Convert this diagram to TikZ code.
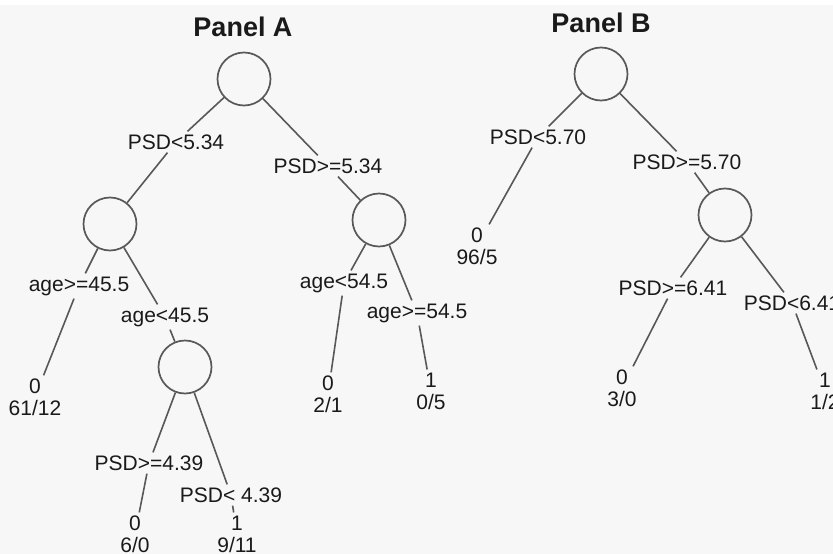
\documentclass[tikz,border=0pt]{standalone}
\usepackage{fontspec}
\setmainfont{Liberation Sans}
\definecolor{bg}{HTML}{F7F7F7}
\definecolor{linegray}{HTML}{585858}
\definecolor{txt}{HTML}{1A1A1A}
\begin{document}
\begin{tikzpicture}[x=1pt,y=-1pt,
  split/.style={circle,draw=linegray,line width=1.7pt,minimum size=53pt,inner sep=0pt},
  cond/.style={font=\fontsize{21}{22}\selectfont,text=txt,inner sep=3pt},
  leaf/.style={font=\fontsize{21}{22}\selectfont,text=txt,align=center,inner sep=3pt},
  ttl/.style={font=\fontsize{27}{30}\selectfont\bfseries,text=txt},
  edge/.style={draw=linegray,line width=1.6pt}]
\useasboundingbox (0,0) rectangle (833,554);
\clip (0,0) rectangle (833,554);
\fill[bg] (0,0) rectangle (833,554);
\fill[white] (0,0) rectangle (833,5);

% Panel A
\node[ttl] (tA) at (243,27) {Panel A};
\node[split] (rA) at (244,79) {};
\node[split] (cA1) at (110,224) {};
\node[split] (cA2) at (379,220) {};
\node[split] (cA3) at (185,367) {};

\node[cond] (a1) at (176,142) {PSD<5.34};
\node[cond] (a2) at (328,166) {PSD>=5.34};
\node[cond] (a3) at (79,286) {age>=45.5};
\node[cond] (a4) at (165,317) {age<45.5};
\node[cond] (a5) at (344,283) {age<54.5};
\node[cond] (a6) at (417,313) {age>=54.5};
\node[cond] (a7) at (149,463) {PSD>=4.39};
\node[cond] (a8) at (231,495) {PSD< 4.39};

\node[leaf] (LA1) at (35,397) {0\\61/12};
\node[leaf] (LA2) at (328,394) {0\\2/1};
\node[leaf] (LA3) at (431,391) {1\\0/5};
\node[leaf] (LA4) at (135,534) {0\\6/0};
\node[leaf] (LA5) at (237,534) {1\\9/11};

\draw[edge] (rA) -- (a1) -- (cA1);
\draw[edge] (rA) -- (a2) -- (cA2);
\draw[edge] (cA1) -- (a3) -- (LA1);
\draw[edge] (cA1) -- (a4) -- (cA3);
\draw[edge] (cA2) -- (a5) -- (LA2);
\draw[edge] (cA2) -- (a6) -- (LA3);
\draw[edge] (cA3) -- (a7) -- (LA4);
\draw[edge] (cA3) -- (a8) -- (LA5);

% Panel B
\node[ttl] (tB) at (601,23) {Panel B};
\node[split] (rB) at (601,74) {};
\node[split] (cB1) at (725,215) {};

\node[cond] (b1) at (538,137) {PSD<5.70};
\node[cond] (b2) at (687,162) {PSD>=5.70};
\node[cond] (b3) at (673,288) {PSD>=6.41};
\node[cond] (b4) at (792,303) {PSD<6.41};

\node[leaf] (LB1) at (477,246) {0\\96/5};
\node[leaf] (LB2) at (622,388) {0\\3/0};
\node[leaf] (LB3) at (825,391) {1\\1/2};

\draw[edge] (rB) -- (b1) -- (LB1);
\draw[edge] (rB) -- (b2) -- (cB1);
\draw[edge] (cB1) -- (b3) -- (LB2);
\draw[edge] (cB1) -- (b4) -- (LB3);
\end{tikzpicture}
\end{document}
